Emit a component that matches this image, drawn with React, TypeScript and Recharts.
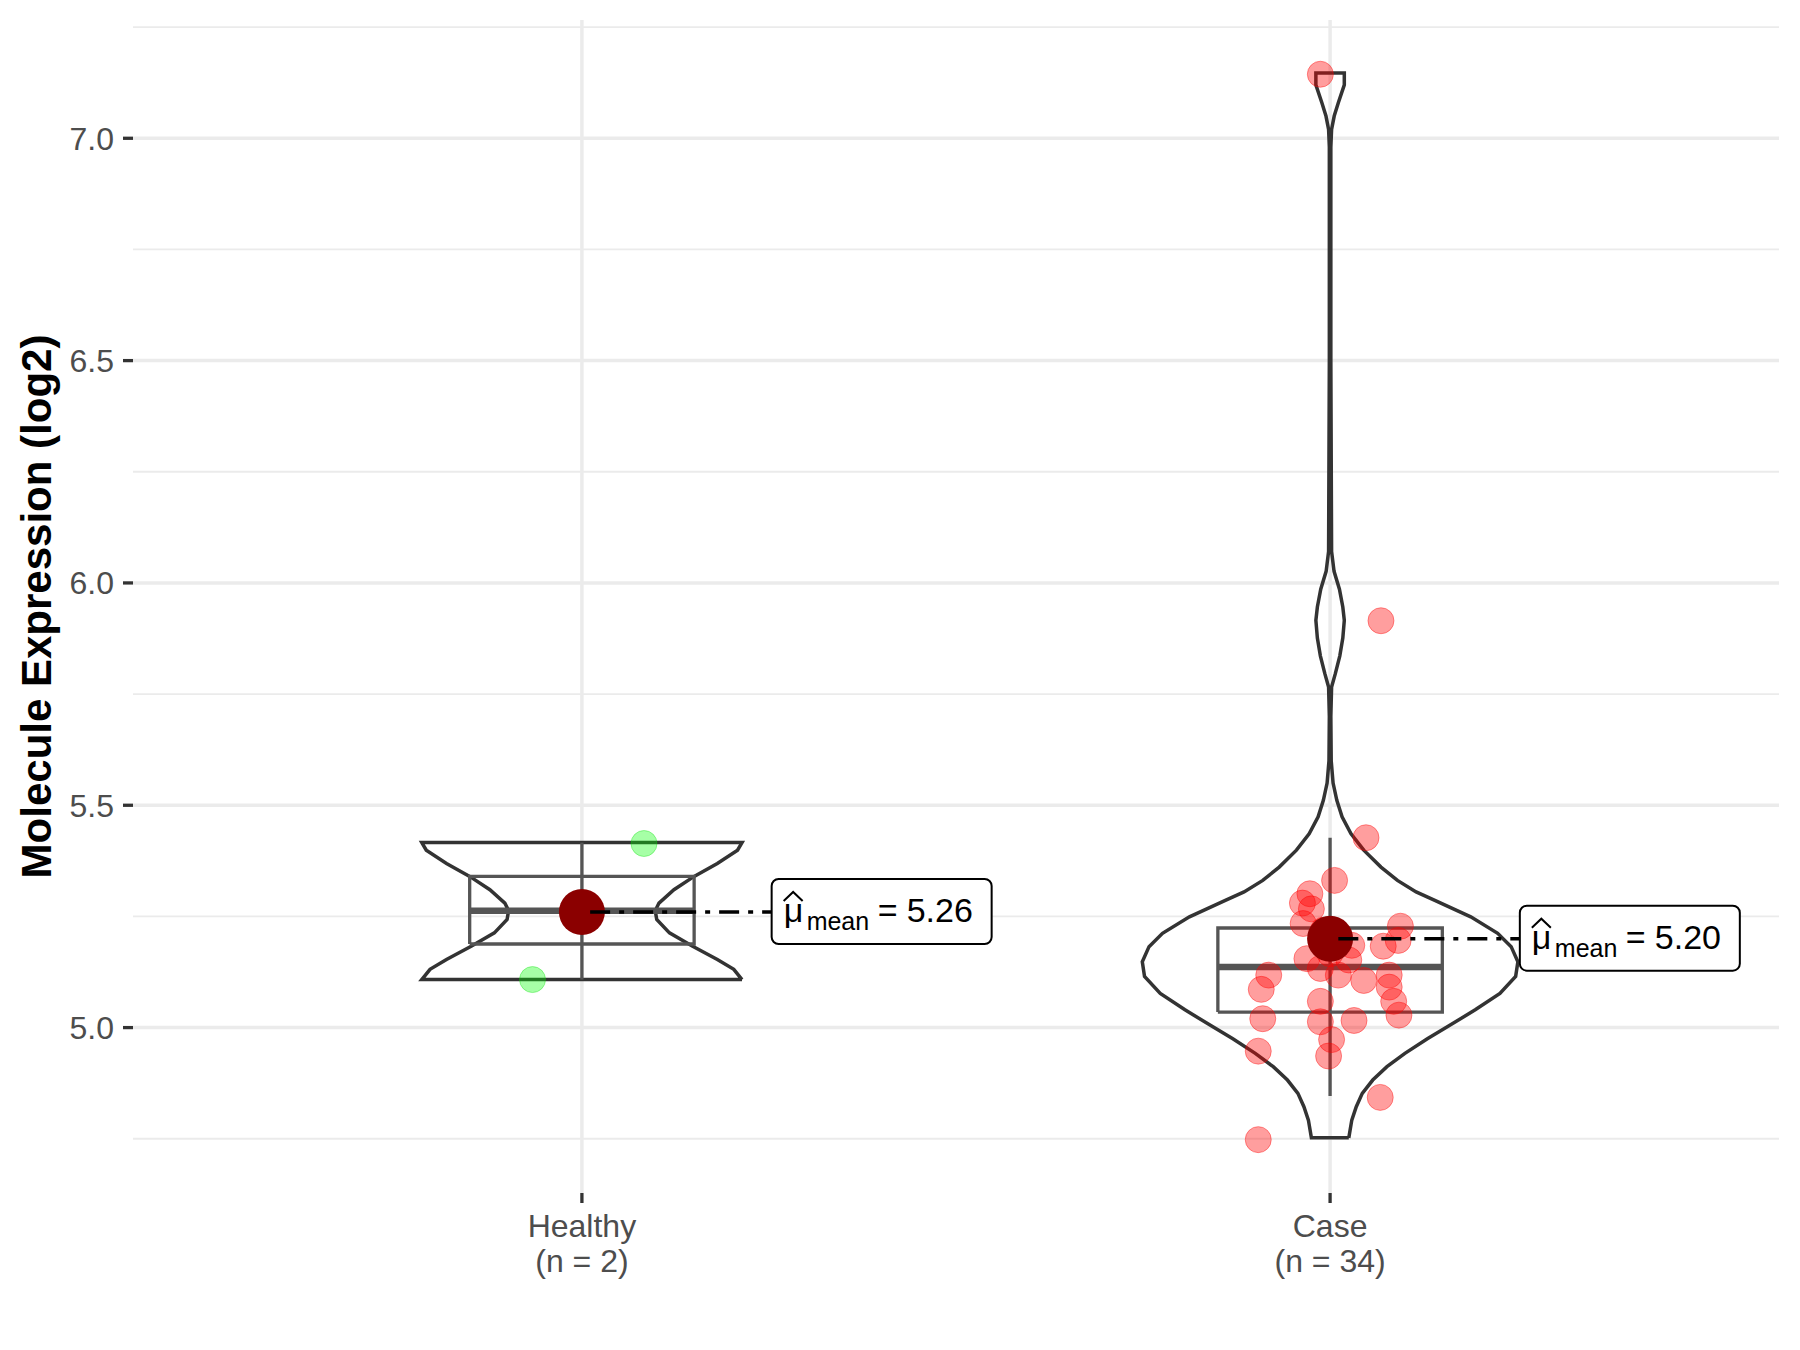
import { ComposedChart, Scatter, XAxis, YAxis, CartesianGrid } from 'recharts'

const groups = ['Healthy', 'Case']
const groupSizes = [2, 34]
const groupPos = [1, 2]

// raw values and horizontal jitter
const healthyValues = [5.414, 5.108]
const healthyJitter = [0.083, -0.066]
const caseValues = [
  5.427, 5.331, 5.301, 5.28, 5.267, 5.234, 5.228, 5.183, 5.185, 5.155, 5.152, 5.118,
  5.118, 5.106, 5.118, 5.086, 5.091, 5.059, 5.059, 5.02, 5.028, 5.013, 5.016, 4.973,
  4.947, 4.936, 4.843, 4.748, 7.144, 5.915, 5.196, 5.166, 5.133, 5.219
]
const caseJitter = [
  0.048, 0.006, -0.027, -0.037, -0.025, -0.036, 0.094, 0.071, 0.029, -0.031, 0.025, -0.082,
  0.011, 0.045, 0.079, -0.092, 0.079, -0.013, 0.085, -0.09, 0.092, -0.013, 0.032, 0.002,
  -0.096, -0.002, 0.067, -0.096, -0.013, 0.068, 0.091, 0.0, -0.013, -0.009
]

const meanValues = [5.26, 5.2]
const boxQ1 = [5.188, 5.035]
const boxMedian = [5.263, 5.136]
const boxQ3 = [5.34, 5.224]
const whiskerLow = [5.108, 4.846]
const whiskerHigh = [5.416, 5.427]

// violin outline: y level and half width (x units)
const healthyViolinY = [5.108, 5.131, 5.153, 5.183, 5.213, 5.243, 5.263, 5.28, 5.31, 5.34, 5.369, 5.399, 5.416]
const healthyViolinW = [0.214, 0.203, 0.181, 0.148, 0.117, 0.1, 0.098, 0.103, 0.123, 0.15, 0.181, 0.208, 0.214]
const caseViolinY = [
  4.752, 4.792, 4.822, 4.852, 4.882, 4.912, 4.942, 4.975, 5.0, 5.04, 5.077, 5.115, 5.148,
  5.182, 5.212, 5.249, 5.286, 5.305, 5.331, 5.361, 5.399, 5.436, 5.474, 5.511, 5.55, 5.6,
  5.7, 5.766, 5.796, 5.836, 5.876, 5.916, 5.946, 5.986, 6.026, 6.071, 6.5, 6.98, 7.02,
  7.05, 7.08, 7.12, 7.147
]
const caseViolinW = [
  0.025, 0.029, 0.035, 0.043, 0.057, 0.076, 0.1, 0.13, 0.155, 0.194, 0.227, 0.248, 0.251,
  0.242, 0.224, 0.188, 0.14, 0.115, 0.09, 0.068, 0.045, 0.028, 0.016, 0.009, 0.004, 0.0015,
  0.001, 0.002, 0.007, 0.013, 0.017, 0.019, 0.017, 0.0125, 0.0053, 0.002, 0.001, 0.001, 0.002,
  0.0055, 0.011, 0.019, 0.019
]

const yTicks = [5, 5.5, 6, 6.5, 7]
const yMinorTicks = [4.75, 5.25, 5.75, 6.25, 6.75, 7.25]

const FONT = '"Liberation Sans", Arial, sans-serif'
const BOX_HALF = 0.15
const LABEL_OFFSET = 0.2536

const violin = (c: number, ys: number[], ws: number[]) => {
  const right = ys.map((y, i) => ({ x: c + ws[i], y }))
  const left = ys.map((y, i) => ({ x: c - ws[i], y })).reverse()
  return [...right, ...left, right[0]]
}

const boxRect = (i: number) => {
  const c = groupPos[i]
  return [
    { x: c - BOX_HALF, y: boxQ1[i] },
    { x: c + BOX_HALF, y: boxQ1[i] },
    { x: c + BOX_HALF, y: boxQ3[i] },
    { x: c - BOX_HALF, y: boxQ3[i] },
    { x: c - BOX_HALF, y: boxQ1[i] }
  ]
}

const healthyPoints = healthyValues.map((y, i) => ({ x: groupPos[0] + healthyJitter[i], y }))
const casePoints = caseValues.map((y, i) => ({ x: groupPos[1] + caseJitter[i], y }))
const meanPoints = meanValues.map((y, i) => ({ x: groupPos[i], y }))

const noShape = () => <g />

const XTick = ({ x, y, payload }: any) => {
  const i = groupPos.indexOf(payload.value)
  return (
    <g>
      <text x={x} y={y + 34} textAnchor="middle" fill="#4D4D4D" fontSize={32} fontFamily={FONT}>
        {groups[i]}
      </text>
      <text x={x} y={y + 69} textAnchor="middle" fill="#4D4D4D" fontSize={32} fontFamily={FONT}>
        {`(n = ${groupSizes[i]})`}
      </text>
    </g>
  )
}

const MeanLabel = ({ cx, cy, payload }: any) => {
  const bx = cx
  return (
    <g>
      <rect x={bx} y={cy - 33} width={220} height={65} rx={7} fill="#fff" stroke="#000" strokeWidth={2} />
      <path d={`M${bx + 12},${cy - 11} L${bx + 21.5},${cy - 20} L${bx + 31},${cy - 11}`} fill="none" stroke="#000" strokeWidth={2} />
      <text x={bx + 12} y={cy + 10} fontSize={34} fontFamily={FONT} fill="#000">μ</text>
      <text x={bx + 35} y={cy + 18} fontSize={25} fontFamily={FONT} fill="#000">mean</text>
      <text x={bx + 106} y={cy + 10} fontSize={34} fontFamily={FONT} fill="#000">=</text>
      <text x={bx + 135} y={cy + 10} fontSize={34} fontFamily={FONT} fill="#000">{payload.y.toFixed(2)}</text>
    </g>
  )
}

export default function App() {
  return (
    <div style={{ position: 'absolute', left: 0, top: 0, background: '#fff' }}>
      <ComposedChart width={1800} height={1350} margin={{ top: 20, right: 21, left: 0, bottom: 0 }}>
        <CartesianGrid stroke="#EBEBEB" strokeWidth={3.5} syncWithTicks />
        <CartesianGrid stroke="#EBEBEB" strokeWidth={1.8} vertical={false} horizontalValues={yMinorTicks} syncWithTicks />
        <XAxis
          type="number"
          dataKey="x"
          domain={[0.4, 2.6]}
          ticks={groupPos}
          allowDataOverflow
          height={157}
          axisLine={false}
          tickSize={10}
          tickMargin={0}
          tickLine={{ stroke: '#333', strokeWidth: 3.3 }}
          tick={<XTick />}
        />
        <YAxis
          type="number"
          dataKey="y"
          domain={[4.628, 7.266]}
          ticks={yTicks}
          allowDataOverflow
          width={133}
          axisLine={false}
          tickSize={10}
          tickMargin={9}
          tickLine={{ stroke: '#333', strokeWidth: 3.3 }}
          tickFormatter={(v: number) => v.toFixed(1)}
          tick={{ fill: '#4D4D4D', fontSize: 32, fontFamily: FONT }}
          label={{
            content: ({ viewBox }: any) => {
              const x = viewBox.x + 51
              const y = viewBox.y + viewBox.height / 2
              return (
                <text x={x} y={y} transform={`rotate(-90, ${x}, ${y})`} textAnchor="middle" fontSize={42} fontWeight="bold" fontFamily={FONT} fill="#000">
                  Molecule Expression (log2)
                </text>
              )
            }
          }}
        />

        {/* violins */}
        <Scatter data={violin(groupPos[0], healthyViolinY, healthyViolinW)} shape={noShape} line={{ stroke: '#333', strokeWidth: 3.5, fill: 'none' }} lineType="joint" isAnimationActive={false} />
        <Scatter data={violin(groupPos[1], caseViolinY, caseViolinW)} shape={noShape} line={{ stroke: '#333', strokeWidth: 3.5, fill: 'none' }} lineType="joint" isAnimationActive={false} />

        {/* box plots */}
        {groupPos.map((c, i) => (
          <Scatter key={`wh-${i}`} data={[{ x: c, y: whiskerLow[i] }, { x: c, y: whiskerHigh[i] }]} shape={noShape} line={{ stroke: '#555', strokeWidth: 3.3, fill: 'none' }} lineType="joint" isAnimationActive={false} />
        ))}
        {groupPos.map((c, i) => (
          <Scatter key={`box-${i}`} data={boxRect(i)} shape={noShape} line={{ stroke: '#555', strokeWidth: 3.3, fill: 'none' }} lineType="joint" isAnimationActive={false} />
        ))}
        {groupPos.map((c, i) => (
          <Scatter key={`med-${i}`} data={[{ x: c - BOX_HALF, y: boxMedian[i] }, { x: c + BOX_HALF, y: boxMedian[i] }]} shape={noShape} line={{ stroke: '#555', strokeWidth: 6.5, fill: 'none' }} lineType="joint" isAnimationActive={false} />
        ))}

        {/* jittered observations */}
        <Scatter data={healthyPoints} isAnimationActive={false} shape={(p: any) => (
          <circle cx={p.cx} cy={p.cy} r={13} fill="#00FF00" fillOpacity={0.35} stroke="#00DD00" strokeOpacity={0.35} strokeWidth={1} />
        )} />
        <Scatter data={casePoints} isAnimationActive={false} shape={(p: any) => (
          <circle cx={p.cx} cy={p.cy} r={13} fill="#FF0000" fillOpacity={0.38} stroke="#FF0000" strokeOpacity={0.4} strokeWidth={1} />
        )} />

        {/* means */}
        <Scatter data={meanPoints} isAnimationActive={false} shape={(p: any) => (
          <circle cx={p.cx} cy={p.cy} r={23} fill="#8B0000" />
        )} />
        {groupPos.map((c, i) => (
          <Scatter key={`seg-${i}`} data={[{ x: c + 0.011, y: meanValues[i] }, { x: c + LABEL_OFFSET, y: meanValues[i] }]} shape={noShape} line={{ stroke: '#000', strokeWidth: 3.5, strokeDasharray: '20 9 5 9', fill: 'none' }} lineType="joint" isAnimationActive={false} />
        ))}
        {groupPos.map((c, i) => (
          <Scatter key={`lab-${i}`} data={[{ x: c + LABEL_OFFSET, y: meanValues[i] }]} shape={MeanLabel} isAnimationActive={false} />
        ))}
      </ComposedChart>
    </div>
  )
}
